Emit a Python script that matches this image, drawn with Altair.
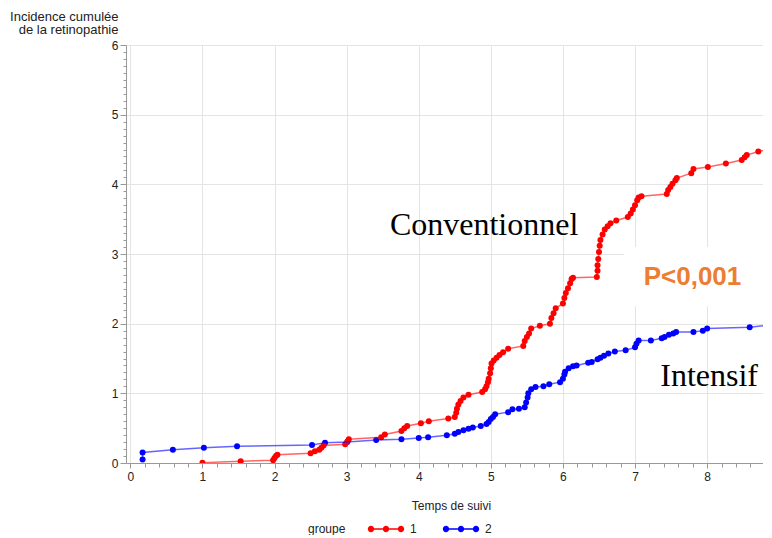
import altair as alt
import pandas as pd

# ---- data ----
red_t = [1.00, 1.53, 1.98, 2.00, 2.02, 2.04, 2.50, 2.56, 2.62, 2.65, 2.68, 2.98, 3.01, 3.03,
         3.48, 3.53, 3.76, 3.80, 3.84, 4.03, 4.14, 4.41, 4.50, 4.52, 4.53, 4.55, 4.58, 4.62,
         4.69, 4.88, 4.92, 4.94, 4.96, 4.97, 4.99, 5.00, 5.01, 5.04, 5.08, 5.12, 5.17, 5.24,
         5.45, 5.47, 5.50, 5.53, 5.56, 5.68, 5.82, 5.84, 5.87, 5.90, 6.00, 6.02, 6.04, 6.07,
         6.10, 6.12, 6.14, 6.47, 6.48, 6.48, 6.49, 6.50, 6.51, 6.52, 6.55, 6.58, 6.62, 6.66,
         6.74, 6.90, 6.94, 6.97, 7.00, 7.03, 7.05, 7.09, 7.44, 7.46, 7.49, 7.52, 7.56, 7.58,
         7.78, 7.81, 8.01, 8.26, 8.48, 8.52, 8.55, 8.71, 9.00]
red_v = [0.005, 0.025, 0.04, 0.07, 0.10, 0.12, 0.14, 0.17, 0.19, 0.22, 0.25, 0.27, 0.31, 0.34,
         0.37, 0.41, 0.46, 0.50, 0.53, 0.57, 0.60, 0.64, 0.66, 0.72, 0.78, 0.84, 0.89, 0.94,
         0.98, 1.02, 1.06, 1.10, 1.16, 1.21, 1.29, 1.36, 1.43, 1.47, 1.51, 1.55, 1.59, 1.64,
         1.68, 1.75, 1.81, 1.86, 1.93, 1.97, 2.00, 2.08, 2.15, 2.22, 2.29, 2.37, 2.44, 2.51,
         2.58, 2.64, 2.66, 2.67, 2.76, 2.84, 2.93, 3.03, 3.12, 3.20, 3.28, 3.35, 3.40, 3.44,
         3.48, 3.53, 3.58, 3.64, 3.70, 3.77, 3.81, 3.83, 3.86, 3.92, 3.96, 4.01, 4.06, 4.09,
         4.16, 4.22, 4.25, 4.30, 4.35, 4.39, 4.42, 4.47, 4.54]

blue_t = [0.17, 0.17, 0.59, 1.02, 1.48, 2.52, 2.70, 3.01, 3.41, 3.76, 4.00, 4.13, 4.39, 4.50,
          4.55, 4.62, 4.69, 4.75, 4.86, 4.94, 4.97, 5.00, 5.03, 5.06, 5.24, 5.30, 5.39, 5.47,
          5.49, 5.51, 5.52, 5.56, 5.62, 5.73, 5.81, 5.96, 6.00, 6.02, 6.03, 6.08, 6.14, 6.19,
          6.35, 6.40, 6.48, 6.52, 6.57, 6.63, 6.72, 6.87, 7.00, 7.02, 7.05, 7.22, 7.37, 7.41,
          7.47, 7.53, 7.57, 7.81, 7.94, 8.00, 8.59, 8.85]
blue_v = [0.05, 0.15, 0.19, 0.22, 0.24, 0.26, 0.29, 0.30, 0.33, 0.34, 0.36, 0.37, 0.40, 0.42,
          0.445, 0.47, 0.49, 0.51, 0.53, 0.56, 0.59, 0.63, 0.66, 0.70, 0.73, 0.77, 0.78, 0.80,
          0.87, 0.94, 1.00, 1.06, 1.09, 1.10, 1.13, 1.16, 1.21, 1.27, 1.31, 1.36, 1.39, 1.40,
          1.44, 1.45, 1.49, 1.51, 1.54, 1.57, 1.60, 1.62, 1.66, 1.71, 1.76, 1.76, 1.79, 1.81,
          1.84, 1.86, 1.88, 1.88, 1.90, 1.93, 1.95, 1.98]

groups = ["1", "2"]
group_colors = ["#ff0000", "#0000ff"]

ann_text = ["Conventionnel", "Intensif"]
ann_t = [3.6, 7.35]
ann_v = [3.27, 1.10]

p_text = ["P<0,001"]
p_t = [7.12]
p_v = [2.55]

box_t = [6.85]
box_t2 = [8.775]
box_v = [2.25]
box_v2 = [3.10]

x_ticks = [round(i * 0.2, 1) for i in range(44)]
y_ticks = [round(i * 0.1, 1) for i in range(61)]

# ---- tables ----
rows = []
for i, (t, v) in enumerate(zip(red_t, red_v)):
    rows.append({"t": t, "v": v, "groupe": groups[0], "i": i})
for i, (t, v) in enumerate(zip(blue_t, blue_v)):
    rows.append({"t": t, "v": v, "groupe": groups[1], "i": i})
df = pd.DataFrame(rows)
ann = pd.DataFrame({"t": ann_t, "v": ann_v, "txt": ann_text})
pdf = pd.DataFrame({"t": p_t, "v": p_v, "txt": p_text})
box = pd.DataFrame({"t": box_t, "t2": box_t2, "v": box_v, "v2": box_v2})

FONT = "Liberation Sans"
is_int = "datum.value % 1 == 0"

xscale = alt.Scale(domain=[-0.06, 8.775], nice=False, zero=False)
yscale = alt.Scale(domain=[0, 6], nice=False)

x_axis = alt.Axis(
    values=x_ticks, tickCount=200,
    labelExpr=f"{is_int} ? format(datum.value, 'd') : ''",
    labelOverlap=False, labelFlush=False,
    tickSize={"condition": {"test": is_int, "value": 5}, "value": 4},
    gridOpacity={"condition": {"test": is_int, "value": 1}, "value": 0},
    labelPadding=3,
    title="Temps de suivi",
    titleX=325, titleY=46, titleAlign="center", titleBaseline="alphabetic",
)
y_axis = alt.Axis(
    values=y_ticks, tickCount=200,
    labelExpr=f"{is_int} ? format(datum.value, 'd') : ''",
    labelOverlap=False, labelFlush=False,
    tickSize={"condition": {"test": is_int, "value": 6}, "value": 3},
    gridOpacity={"condition": {"test": is_int, "value": 1}, "value": 0},
    labelPadding=2,
    title=["Incidence cumulée\u00a0\u00a0", "de la retinopathie"],
    titleAngle=0, titleAlign="right", titleBaseline="alphabetic", titleFontSize=13,
    titleX=-8, titleY=-25, titleLineHeight=13.5,
)

legend_path = (
    "M-4.5,-0.2H4.5V0.2H-4.5Z"
    "M-4.55,0a0.8,0.8 0 1,1 1.6,0a0.8,0.8 0 1,1 -1.6,0Z"
    "M-0.8,0a0.8,0.8 0 1,1 1.6,0a0.8,0.8 0 1,1 -1.6,0Z"
    "M2.95,0a0.8,0.8 0 1,1 1.6,0a0.8,0.8 0 1,1 -1.6,0Z"
)

color = alt.Color(
    "groupe:N",
    scale=alt.Scale(domain=groups, range=group_colors),
    legend=alt.Legend(
        orient="none", legendX=182, legendY=478, direction="horizontal",
        titleOrient="left", title="groupe", titlePadding=20,
        symbolType=legend_path, symbolSize=64, symbolOffset=14, labelOffset=18,
        symbolStrokeWidth=0, symbolOpacity=1, columnPadding=24,
    ),
)

base = alt.Chart(df).encode(
    x=alt.X("t:Q", scale=xscale, axis=x_axis),
    y=alt.Y("v:Q", scale=yscale, axis=y_axis),
    color=color,
    order="i:Q",
)

points = base.mark_point(filled=True, size=36, opacity=1, clip=True)
lines = base.mark_line(strokeWidth=1.5, opacity=0.6, clip=True)

boxes = alt.Chart(box).mark_rect(color="white", clip=True).encode(
    x="t:Q", x2="t2:Q", y="v:Q", y2="v2:Q"
)

labels = alt.Chart(ann).mark_text(
    font="Liberation Serif", fontSize=32, align="left", baseline="alphabetic", color="black"
).encode(x="t:Q", y="v:Q", text="txt:N")

ptext = alt.Chart(pdf).mark_text(
    font=FONT, fontSize=26, fontWeight="bold", align="left", baseline="alphabetic",
    color="#ed7d31"
).encode(x="t:Q", y="v:Q", text="txt:N")

chart = alt.layer(points, lines, boxes, labels, ptext).properties(
    width=637, height=418,
    padding={"left": 1, "top": 2, "right": 0, "bottom": 0},
).configure_view(stroke=None).configure_axis(
    labelFont=FONT, titleFont=FONT, labelFontSize=12, titleFontSize=12,
    titleFontWeight="normal", labelColor="#222", titleColor="#222",
    domainColor="#999", tickColor="#999", gridColor="#e4e4e4",
).configure_legend(
    labelFont=FONT, titleFont=FONT, labelFontSize=12, titleFontSize=12,
    titleFontWeight="normal", labelColor="#222", titleColor="#222",
)

chart.save("out.html", embed_options={"renderer": "svg", "actions": False})
